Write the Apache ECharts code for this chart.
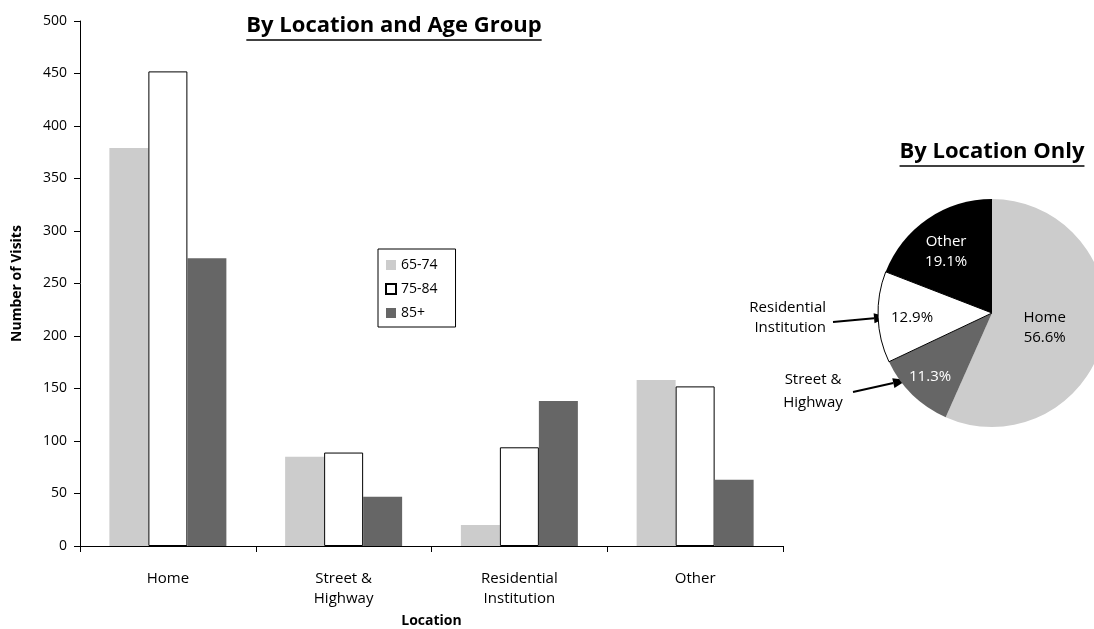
<!DOCTYPE html>
<html><head><meta charset="utf-8">
<script src="https://cdn.jsdelivr.net/npm/echarts@6/dist/echarts.min.js"></script>
<style>html,body{margin:0;padding:0;background:#fff}#c{width:1094px;height:629px}</style>
</head><body><div id="c"></div>
<script>
var FONT = '"Open Sans", "Noto Sans", sans-serif';
var categories = ['Home', 'Street &\nHighway', 'Residential\nInstitution', 'Other'];
var ageGroups = ['65-74', '75-84', '85+'];
var visits6574 = [379, 85, 20, 158];
var visits7584 = [452, 89, 94, 152];
var visits85 = [274, 47, 138, 63];
var yTicks = { min: 0, max: 500, interval: 50 };
var pieNames = ['Home', 'Street & Highway', 'Residential Institution', 'Other'];
var piePercents = [56.6, 11.3, 12.9, 19.1];

function textWidth(txt, font) {
  var c = document.createElement('canvas').getContext('2d');
  c.font = font; return c.measureText(txt).width;
}
var t1 = 'By Location and Age Group', t2 = 'By Location Only';
var tf = 'bold 22px "Open Sans"';
var w1 = textWidth(t1, tf), w2 = textWidth(t2, tf);
var t1x = 394, t1y = 26, t2x = 992, t2y = 152;

var chart = echarts.init(document.getElementById('c'), null, {renderer: 'canvas'});
var pieColors = ['#cccccc', '#666666', '#ffffff', '#000000'];
var pieLabelColors = ['#000', '#fff', '#000', '#fff'];
var pieOffsets = [[-6, 2], [-20, 21], [-20, 3], [-12, -12]];
var pieData = pieNames.map(function (n, i) {
  return {
    name: n, value: piePercents[i],
    itemStyle: { color: pieColors[i], borderColor: i === 2 ? '#000' : pieColors[i], borderWidth: i === 2 ? 1 : 0 },
    label: { color: pieLabelColors[i], offset: pieOffsets[i],
      formatter: (i === 0 || i === 3) ? (n + '\n' + piePercents[i].toFixed(1) + '%') : (piePercents[i].toFixed(1) + '%') }
  };
});

function arrow(x1, y1, x2, y2) {
  var ang = Math.atan2(y2 - y1, x2 - x1), L = 14, W = 5;
  var bx = x2 - L * Math.cos(ang), by = y2 - L * Math.sin(ang);
  return [
    { type: 'line', shape: { x1: x1, y1: y1, x2: bx, y2: by }, style: { stroke: '#000', lineWidth: 2 } },
    { type: 'polygon', shape: { points: [[x2, y2], [bx + W * Math.sin(ang), by - W * Math.cos(ang)], [bx - W * Math.sin(ang), by + W * Math.cos(ang)]] }, style: { fill: '#000' } }
  ];
}

var graphics = [
  { type: 'text', x: t1x, y: t1y, style: { text: t1, font: tf, fill: '#000', align: 'center', verticalAlign: 'middle' } },
  { type: 'line', shape: { x1: t1x - w1 / 2, y1: t1y + 14, x2: t1x + w1 / 2, y2: t1y + 14 }, style: { stroke: '#000', lineWidth: 1.5 } },
  { type: 'text', x: t2x, y: t2y, style: { text: t2, font: tf, fill: '#000', align: 'center', verticalAlign: 'middle' } },
  { type: 'line', shape: { x1: t2x - w2 / 2, y1: t2y + 14, x2: t2x + w2 / 2, y2: t2y + 14 }, style: { stroke: '#000', lineWidth: 1.5 } },
  { type: 'text', x: 826, y: 318, style: { text: 'Residential\nInstitution', font: '15px "Open Sans"', fill: '#000', align: 'right', verticalAlign: 'middle', lineHeight: 20 } },
  { type: 'text', x: 813, y: 391, style: { text: 'Street &\nHighway', font: '15px "Open Sans"', fill: '#000', align: 'center', verticalAlign: 'middle', lineHeight: 23 } }
].concat(arrow(833, 322, 888, 317)).concat(arrow(853, 392, 907, 380));

chart.setOption({
  animation: false,
  textStyle: { fontFamily: FONT },
  grid: { left: 80, top: 21, right: 311, bottom: 83, containLabel: false, outerBoundsMode: 'none' },
  legend: {
    data: ageGroups, orient: 'vertical', left: 378, top: 249,
    borderColor: '#000', borderWidth: 1, padding: [8, 18, 6, 7],
    itemWidth: 10, itemHeight: 10, itemGap: 8, icon: 'rect',
    textStyle: { fontSize: 14, color: '#000', fontFamily: FONT, lineHeight: 16 }
  },
  xAxis: {
    type: 'category', data: categories,
    name: 'Location', nameLocation: 'middle', nameGap: 67,
    nameTextStyle: { fontWeight: 'bold', fontSize: 14, color: '#000' },
    axisLine: { lineStyle: { color: '#000', width: 1 } },
    axisTick: { show: true, length: 6, lineStyle: { color: '#000' } },
    axisLabel: { color: '#000', fontSize: 15, margin: 23, lineHeight: 20 }
  },
  yAxis: {
    type: 'value', min: yTicks.min, max: yTicks.max, interval: yTicks.interval,
    name: 'Number of Visits', nameLocation: 'middle', nameGap: 56,
    nameTextStyle: { fontWeight: 'bold', fontSize: 14, color: '#000' },
    splitLine: { show: false },
    axisLine: { show: true, lineStyle: { color: '#000', width: 1 } },
    axisTick: { show: true, length: 6, lineStyle: { color: '#000' } },
    axisLabel: { color: '#000', fontSize: 14, margin: 13 }
  },
  series: [
    { name: ageGroups[0], type: 'bar', data: visits6574, barWidth: 39, barGap: '0%', itemStyle: { color: '#cccccc' } },
    { name: ageGroups[1], type: 'bar', data: visits7584, barWidth: 39, barGap: '0%', itemStyle: { color: '#ffffff', borderColor: '#000', borderWidth: 1 } },
    { name: ageGroups[2], type: 'bar', data: visits85, barWidth: 39, barGap: '0%', itemStyle: { color: '#666666' } },
    { type: 'pie', center: [992, 313], radius: 114, startAngle: 90, clockwise: true,
      data: pieData, label: { show: true, position: 'inside', fontSize: 15, lineHeight: 20, fontFamily: FONT },
      labelLine: { show: false }, emphasis: { disabled: true } }
  ],
  graphic: graphics
});
</script></body></html>
